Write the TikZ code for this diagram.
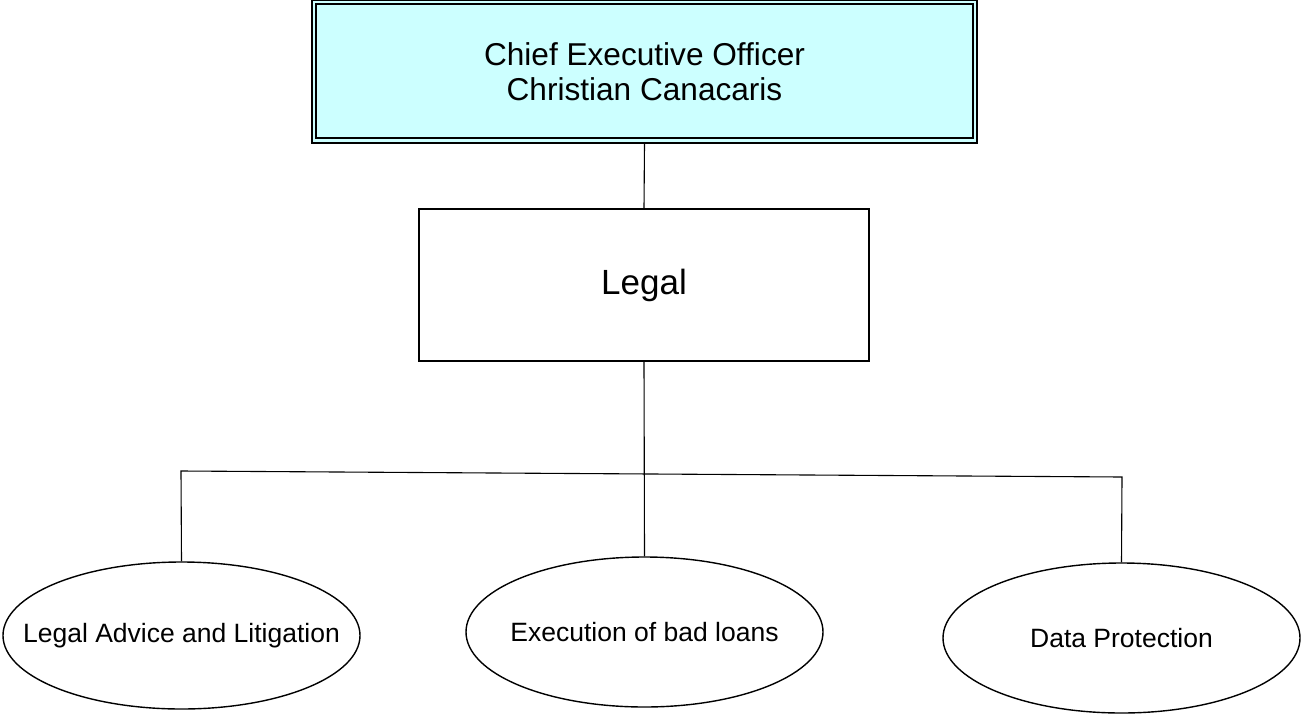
\documentclass[tikz,border=0pt]{standalone}
\usepackage{fontspec}
\setmainfont{Liberation Sans}
\usetikzlibrary{shapes.geometric}
\definecolor{ceofill}{HTML}{CCFFFF}
\tikzset{
  ceobox/.style={draw=black, line width=1.4pt, fill=ceofill, rectangle, minimum width=665pt, minimum height=143pt, inner sep=0pt, align=center, font=\fontsize{31.6}{34.5}\selectfont},
  deptbox/.style={draw=black, line width=2pt, rectangle, minimum width=450pt, minimum height=152pt, inner sep=0pt, font=\fontsize{35}{42}\selectfont},
  unit/.style={draw=black, line width=1.4pt, ellipse, minimum width=357pt, minimum height=147pt, inner ysep=0pt, inner xsep=-120pt, font=\fontsize{26.5}{32}\selectfont},
  conn/.style={draw=black, line width=1.1pt}
}
\begin{document}
\begin{tikzpicture}[x=1pt, y=-1pt]
\useasboundingbox (0,0) rectangle (1301,715);
\node[ceobox] (ceo) at (644.5,71.5) {Chief Executive Officer\\Christian Canacaris};
\draw[line width=2pt] ([shift={(5pt,-5pt)}]ceo.north west) rectangle ([shift={(-5pt,6pt)}]ceo.south east);
\node[deptbox] (legal) at (644,285) {Legal};
\node[unit] (e1) at (181.5,635.5) {Legal Advice and Litigation};
\node[unit, minimum height=150pt] (e2) at (644.5,632) {Execution of bad loans};
\node[unit, minimum height=150pt] (e3) at (1121.5,638) {Data Protection};
\coordinate (bl) at (181,471);
\coordinate (br) at (1122,477);
\draw[conn] (ceo.south) -- (legal.north);
\draw[conn] (legal.south) -- (e2.north);
\draw[conn] (e1.north) -- (bl) -- (br) -- (e3.north);
\end{tikzpicture}
\end{document}
